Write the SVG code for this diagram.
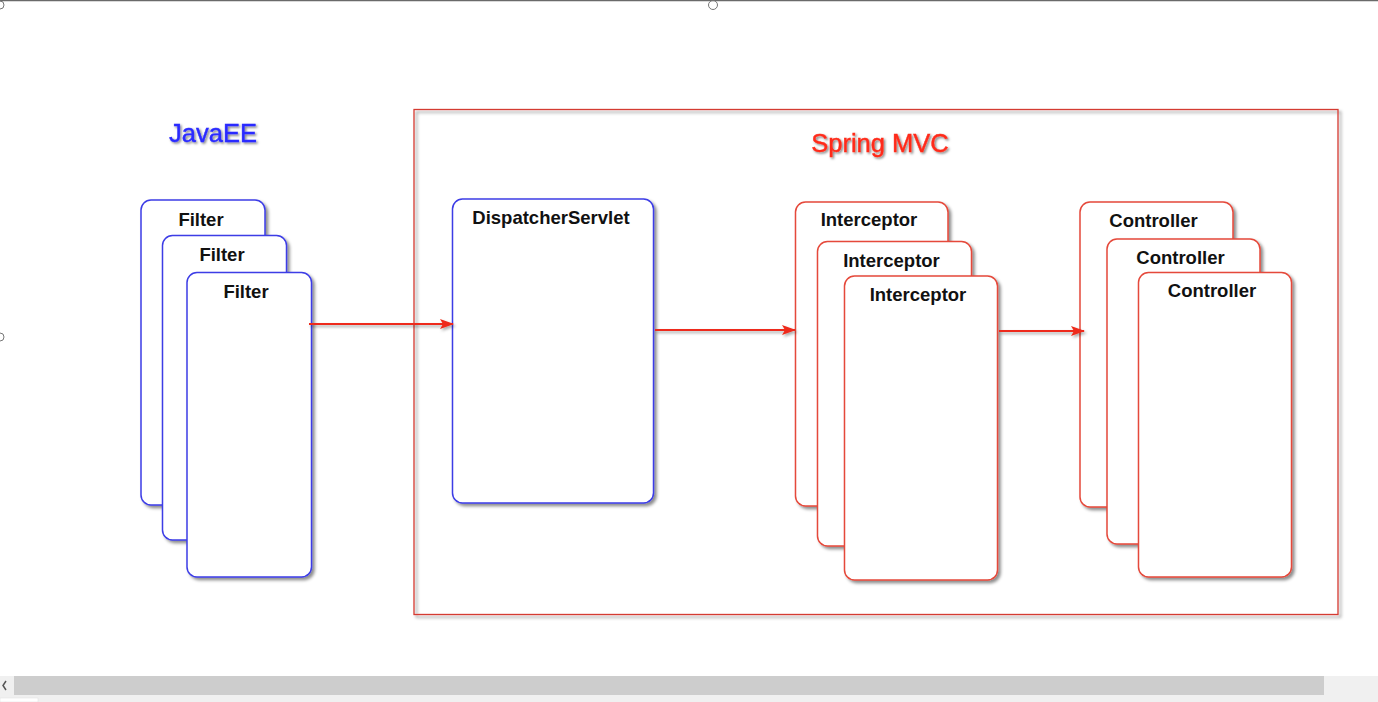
<svg xmlns="http://www.w3.org/2000/svg" width="1378" height="702" viewBox="0 0 1378 702">
  <defs>
    <filter id="sh" x="-10%" y="-10%" width="130%" height="130%">
      <feDropShadow dx="2.5" dy="2.5" stdDeviation="1.8" flood-color="#000" flood-opacity="0.45"/>
    </filter>
    <filter id="tsh" x="-10%" y="-30%" width="130%" height="170%">
      <feDropShadow dx="1.5" dy="1.5" stdDeviation="1.2" flood-color="#000" flood-opacity="0.5"/>
    </filter>
    <filter id="ash" filterUnits="userSpaceOnUse" x="0" y="0" width="1378" height="702">
      <feDropShadow dx="1.5" dy="2" stdDeviation="1.5" flood-color="#000" flood-opacity="0.35"/>
    </filter>
    <marker id="ah" viewBox="0 0 14 10" refX="13" refY="5" markerWidth="14" markerHeight="10" markerUnits="userSpaceOnUse" orient="auto">
      <path d="M0,0 L14,5 L0,10 L3,5 Z" fill="#ee2a1a"/>
    </marker>
  </defs>
  <style>
    .blue { fill: #fff; stroke: #3c3ce6; stroke-width: 1.5; filter: url(#sh); }
    .red { fill: #fff; stroke: #e5483a; stroke-width: 1.5; filter: url(#sh); }
    .lbl { font-family: "Liberation Sans", Arial, sans-serif; font-weight: bold; font-size: 18.5px; fill: #111; text-anchor: middle; }
    .title { font-family: "Liberation Sans", Arial, sans-serif; font-size: 25.5px; text-anchor: middle; filter: url(#tsh); stroke-width: 0.4; }
    .arrow { stroke: #ee2a1a; stroke-width: 2; fill: none; marker-end: url(#ah); filter: url(#ash); }
    .ui { fill: none; stroke: #777; stroke-width: 1; }
  </style>
  <rect x="0" y="0" width="1378" height="702" fill="#fff"/>
  <line x1="0" y1="0.5" x2="1378" y2="0.5" stroke="#6a6a6a" stroke-width="1.5"/>
  <circle class="ui" cx="713" cy="5" r="4.5" fill="#fff"/>
  <circle class="ui" cx="0" cy="5" r="4"/>
  <circle class="ui" cx="0" cy="337" r="4"/>
  <g id="scrollbar">
    <rect x="0" y="676" width="1378" height="26" fill="#f0f0f0"/>
    <rect x="14" y="676" width="1310" height="19" fill="#cdcdcd"/>
    <rect x="0" y="698" width="38" height="4" fill="#fff" stroke="#ddd" stroke-width="0.5"/>
    <path d="M6,681 L3,685.5 L6,690" fill="none" stroke="#555" stroke-width="1.5"/>
  </g>

  <g id="javaee-title">
    <text class="title" x="213" y="142" fill="#2a2aff" stroke="#2a2aff">JavaEE</text>
  </g>
  <g id="springmvc">
    <rect x="414" y="109.5" width="924" height="505" fill="none" stroke="#d43a30" stroke-width="1.3" filter="url(#sh)"/>
    <text class="title" x="880" y="152" fill="#ff2a1a" stroke="#ff2a1a">Spring MVC</text>
  </g>

  <g id="filter1"><rect class="blue" x="141" y="200" width="124" height="305" rx="10"/><text class="lbl" x="201" y="226">Filter</text></g>
  <g id="filter2"><rect class="blue" x="162.5" y="235.5" width="124" height="304.5" rx="10"/><text class="lbl" x="222" y="261">Filter</text></g>
  <g id="filter3"><rect class="blue" x="187" y="272.5" width="124.5" height="304.5" rx="10"/><text class="lbl" x="246" y="297.5">Filter</text></g>

  <g id="dispatcher"><rect class="blue" x="452.5" y="199" width="201" height="304" rx="10"/><text class="lbl" x="551" y="224">DispatcherServlet</text></g>

  <g id="interceptor1"><rect class="red" x="795.5" y="202" width="152.5" height="304" rx="10"/><text class="lbl" x="869" y="226">Interceptor</text></g>
  <g id="interceptor2"><rect class="red" x="817.5" y="241.5" width="154" height="304.5" rx="10"/><text class="lbl" x="891.5" y="266.5">Interceptor</text></g>
  <g id="interceptor3"><rect class="red" x="844.5" y="276" width="153" height="304" rx="10"/><text class="lbl" x="918" y="301">Interceptor</text></g>

  <g id="controller1"><rect class="red" x="1080" y="202" width="153" height="305" rx="10"/><text class="lbl" x="1153.5" y="226.5">Controller</text></g>
  <g id="controller2"><rect class="red" x="1107" y="239" width="153" height="305" rx="10"/><text class="lbl" x="1180.5" y="264">Controller</text></g>
  <g id="controller3"><rect class="red" x="1138.5" y="272.5" width="153" height="304.5" rx="10"/><text class="lbl" x="1212" y="297">Controller</text></g>

  <g id="connectors">
    <line class="arrow" x1="309" y1="324" x2="453" y2="324"/>
    <line class="arrow" x1="655" y1="330" x2="795" y2="330"/>
    <line class="arrow" x1="999" y1="331" x2="1084" y2="331"/>
  </g>
</svg>
